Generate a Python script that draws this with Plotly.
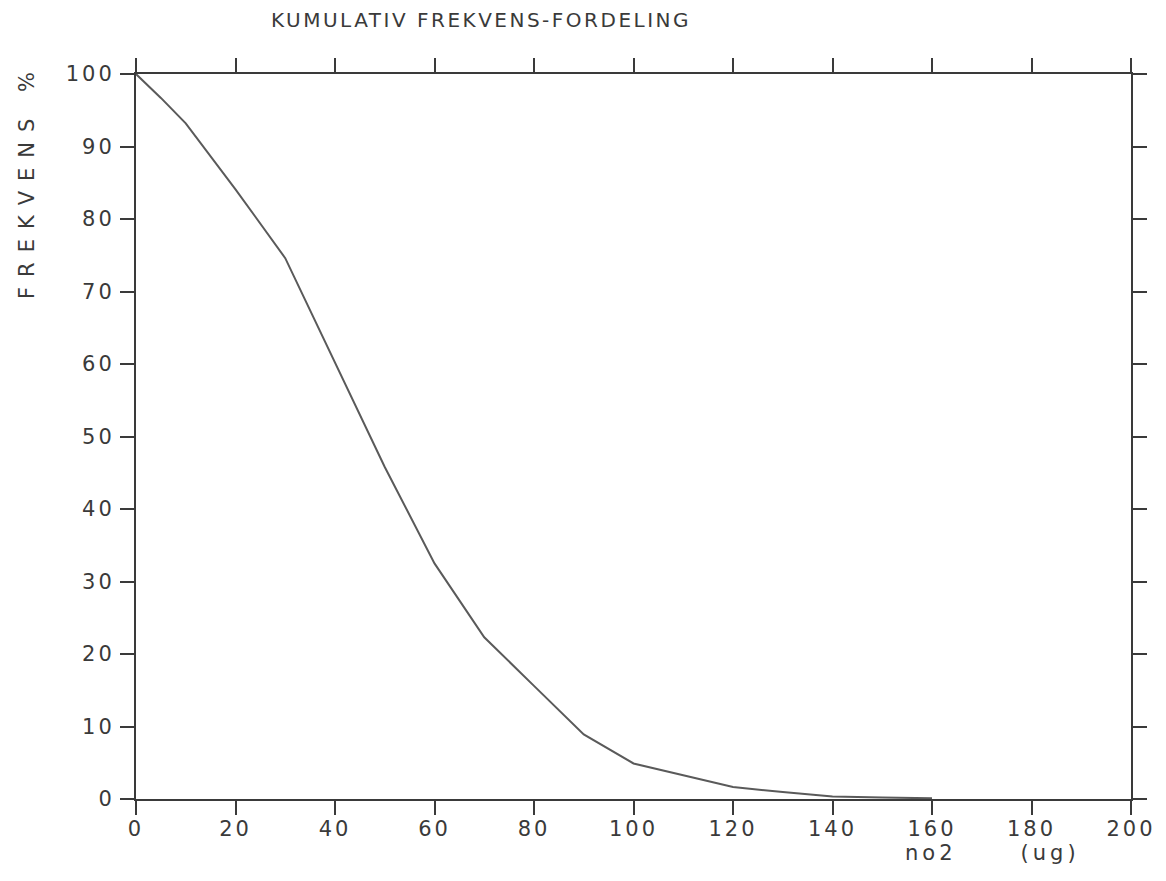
import plotly.graph_objects as go

# data
no2_ug = [0, 5, 10, 20, 30, 40, 50, 60, 70, 80, 90, 100, 110, 120, 130, 140, 150, 160]
frekvens_pct = [100, 96.7, 93.2, 84.1, 74.6, 60.2, 45.8, 32.5, 22.3, 15.6, 8.9, 4.9, 3.3, 1.65, 0.95, 0.35, 0.2, 0.1]

x_ticks = [0, 20, 40, 60, 80, 100, 120, 140, 160, 180, 200]
y_ticks = [0, 10, 20, 30, 40, 50, 60, 70, 80, 90, 100]

title_text = "KUMULATIV FREKVENS-FORDELING"
y_title = "FREKVENS %"
x_title = "no2\u00a0\u00a0\u00a0\u00a0\u00a0\u00a0(ug)"

INK = "#3a3a3a"
FONT = "DejaVu Sans"

# page offset (body margin) and plot box in screen pixels
OFF = 8
PL, PR, PT, PB = 136, 1131, 74, 799
W, H = 1166 - OFF, 881 - OFF


def px_x(x):
    return (x - PL) / (PR - PL)


def px_y(y):
    return (PB - y) / (PB - PT)


def spaced(t, ls):
    return f'<span style="letter-spacing:{ls}px">{t}</span>'


fig = go.Figure()
fig.add_trace(go.Scatter(
    x=no2_ug, y=frekvens_pct, mode="lines",
    line=dict(color="#5a5a5a", width=2),
    showlegend=False, hoverinfo="skip",
))

axis_common = dict(
    showgrid=False, zeroline=False, showline=True, linecolor=INK, linewidth=2,
    ticks="outside", ticklen=14, tickwidth=1.5, tickcolor=INK, mirror="ticks",
    tickfont=dict(family=FONT, size=21, color=INK), automargin=False,
)

fig.update_xaxes(
    range=[0, 200], tickmode="array", tickvals=x_ticks,
    ticktext=[spaced(str(v), 3) for v in x_ticks],
    ticklabelstandoff=-4, **axis_common,
)
fig.update_yaxes(
    range=[0, 100], tickmode="array", tickvals=y_ticks,
    ticktext=[spaced(str(v), 3) for v in y_ticks],
    ticklabelstandoff=1, **axis_common,
)

fig.update_layout(
    width=W, height=H,
    margin=dict(l=PL - OFF, r=W - (PR - OFF), t=PT - OFF, b=H - (PB - OFF)),
    plot_bgcolor="white", paper_bgcolor="white",
    font=dict(family=FONT, color=INK),
    annotations=[
        dict(text=spaced(title_text, 2.5), xref="paper", yref="paper",
             x=px_x(481), y=px_y(20), xanchor="center", yanchor="middle",
             showarrow=False, font=dict(family=FONT, size=20, color=INK)),
        dict(text=spaced(y_title, 10), xref="paper", yref="paper",
             x=px_x(27), y=px_y(181), xanchor="center", yanchor="middle",
             textangle=-90, showarrow=False, font=dict(family=FONT, size=21, color=INK)),
        dict(text=spaced(x_title, 4), xref="paper", yref="paper",
             x=px_x(992), y=px_y(853), xanchor="center", yanchor="middle",
             showarrow=False, font=dict(family=FONT, size=21, color=INK)),
    ],
)

fig.write_html("out.html")
